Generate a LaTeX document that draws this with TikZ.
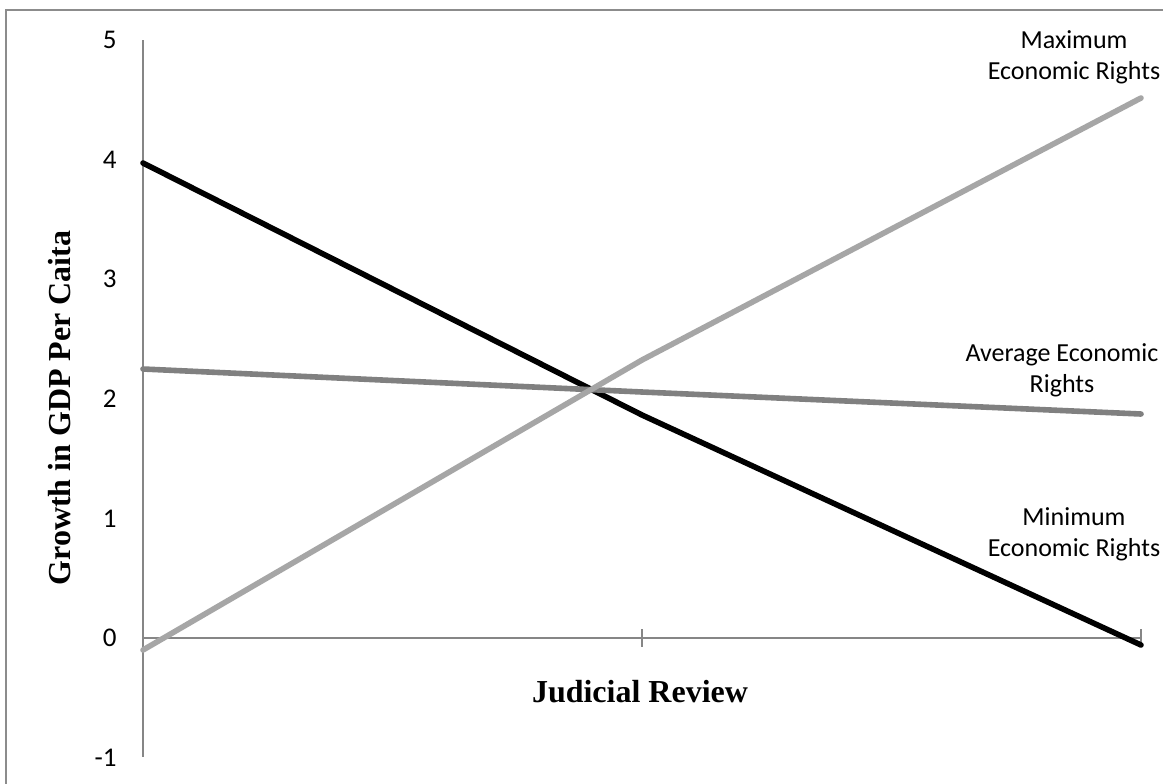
\documentclass[tikz,border=0pt]{standalone}
\usepackage{fontspec}
\setmainfont{Carlito}
\newfontfamily\titlefont{Liberation Serif}
\definecolor{framegray}{HTML}{8C8C8C}
\definecolor{axisgray}{HTML}{868686}
\definecolor{avggray}{HTML}{808080}
\definecolor{maxgray}{HTML}{A6A6A6}
\tikzset{
  axisline/.style={draw=axisgray, line width=0.8pt},
  series/.style={line width=2.8pt, line cap=round, line join=round},
  ticklabel/.style={anchor=east, inner sep=0pt, font=\fontsize{13.5}{16}\selectfont},
  serieslabel/.style={align=center, inner sep=0pt, font=\fontsize{13}{15.5}\selectfont},
  axistitle/.style={inner sep=0pt, font=\titlefont\bfseries\fontsize{16}{19}\selectfont},
}
\begin{document}
\begin{tikzpicture}[x=0.5pt,y=-0.5pt]
  \clip (0,0) rectangle (1163,783);
  \fill[white] (0,0) rectangle (1163,783);
  \draw[framegray, line width=1pt] (6,10) rectangle (1190,810);
  % axes
  \coordinate (ytop) at (143,40);
  \coordinate (ybottom) at (143,757);
  \coordinate (origin) at (143,638);
  \coordinate (xend) at (1141,638);
  \draw[axisline] (ytop) -- (ybottom);
  \draw[axisline] (origin) -- (xend);
  \foreach \x in {143,642,1141}
    \draw[axisline] (\x,629) -- (\x,647);
  \foreach \v in {-1,...,5}
    \node[ticklabel] (tick\v) at (117,{638-119.6*(\v)}) {\v};
  % data points
  \coordinate (min1) at (143,163);
  \coordinate (min2) at (642,415);
  \coordinate (min3) at (1141,645);
  \coordinate (avg1) at (143,369);
  \coordinate (avg2) at (642,392);
  \coordinate (avg3) at (1141,414);
  \coordinate (max1) at (143,650);
  \coordinate (max2) at (642,360);
  \coordinate (max3) at (1141,98);
  \begin{scope}[series]
    \draw[black] (min1) -- (min2) -- (min3);
    \draw[avggray] (avg1) -- (avg2) -- (avg3);
    \draw[maxgray] (max1) -- (max2) -- (max3);
  \end{scope}
  % labels
  \node[serieslabel] (maxlabel) at (1074,57.5) {Maximum\\Economic Rights};
  \node[serieslabel] (avglabel) at (1062,370) {Average Economic\\Rights};
  \node[serieslabel] (minlabel) at (1074,534) {Minimum\\Economic Rights};
  \node[axistitle] (xtitle) at (640,692) {Judicial Review};
  \node[axistitle, rotate=90] (ytitle) at (60,408) {Growth in GDP Per Caita};
\end{tikzpicture}
\end{document}
